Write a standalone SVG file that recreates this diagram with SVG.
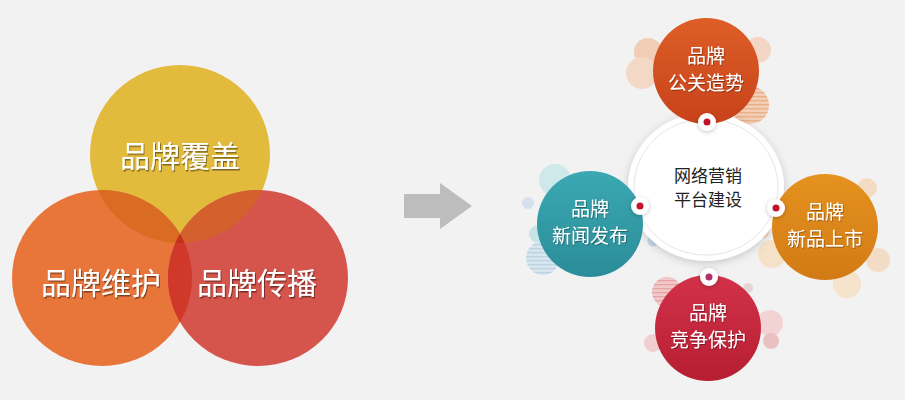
<svg xmlns="http://www.w3.org/2000/svg" width="905" height="400" viewBox="0 0 905 400">
<defs>
<style>
.venn{font-family:"Noto Sans CJK SC","Noto Sans",sans-serif;font-size:30px;fill:#fff;text-anchor:middle}
.lbl{font-family:"Noto Sans CJK SC","Noto Sans",sans-serif;font-size:19px;fill:#fff;text-anchor:middle}
.ctr{font-family:"Noto Sans CJK SC","Noto Sans",sans-serif;font-size:17px;fill:#222;text-anchor:middle}
.dotw{fill:#fff;filter:url(#sh)}
.dotr{fill:#C41230}
</style>
<filter id="ts" x="-10%" y="-30%" width="120%" height="160%"><feDropShadow dx="1" dy="1.5" stdDeviation="0.7" flood-color="#000" flood-opacity="0.45"/></filter>
<filter id="ts2" x="-10%" y="-30%" width="120%" height="160%"><feDropShadow dx="0.8" dy="1" stdDeviation="0.6" flood-color="#000" flood-opacity="0.35"/></filter>
<filter id="sh" x="-30%" y="-30%" width="160%" height="160%"><feDropShadow dx="0" dy="1" stdDeviation="2" flood-color="#000" flood-opacity="0.25"/></filter>
<filter id="shc" x="-20%" y="-20%" width="140%" height="140%"><feDropShadow dx="0" dy="2" stdDeviation="4" flood-color="#000" flood-opacity="0.18"/></filter>
<clipPath id="cY"><ellipse cx="180" cy="154" rx="90" ry="89"/></clipPath>
<clipPath id="cO"><ellipse cx="102" cy="278" rx="90" ry="88"/></clipPath>
<linearGradient id="gTop" x1="0" y1="0" x2="0" y2="1"><stop offset="0" stop-color="#DE5E27"/><stop offset="1" stop-color="#C8421A"/></linearGradient>
<linearGradient id="gTeal" x1="0" y1="0" x2="0" y2="1"><stop offset="0" stop-color="#3BA8B2"/><stop offset="1" stop-color="#2A8D99"/></linearGradient>
<linearGradient id="gOr" x1="0" y1="0" x2="0" y2="1"><stop offset="0" stop-color="#E5921F"/><stop offset="1" stop-color="#D27A15"/></linearGradient>
<linearGradient id="gRed" x1="0" y1="0" x2="0" y2="1"><stop offset="0" stop-color="#D2324A"/><stop offset="1" stop-color="#B71E31"/></linearGradient>
<pattern id="stP" width="6" height="4" patternUnits="userSpaceOnUse"><rect width="6" height="4" fill="#F3CDB4"/><rect width="6" height="1.3" fill="#E9AE8A"/></pattern>
<pattern id="stB" width="6" height="4" patternUnits="userSpaceOnUse"><rect width="6" height="4" fill="#D7E6EE"/><rect width="6" height="1.3" fill="#BCD4E2"/></pattern>
<pattern id="stR" width="6" height="4" patternUnits="userSpaceOnUse"><rect width="6" height="4" fill="#F2C8C8"/><rect width="6" height="1.3" fill="#E5A3A6"/></pattern>
</defs>
<rect width="905" height="400" fill="#F2F2F2"/>

<g id="venn">
<g id="v-cover">
<ellipse cx="180" cy="154" rx="90" ry="89" fill="#E2BA3C"/>
</g>
<g id="v-maintain">
<ellipse cx="102" cy="278" rx="90" ry="88" fill="#E8763A"/>
</g>
<g id="v-spread">
<ellipse cx="258" cy="278" rx="90" ry="88" fill="#D5544B"/>
</g>
<g id="v-overlaps">
<ellipse cx="102" cy="278" rx="90" ry="88" fill="#D96B22" clip-path="url(#cY)"/>
<ellipse cx="258" cy="278" rx="90" ry="88" fill="#D4602E" clip-path="url(#cY)"/>
<ellipse cx="258" cy="278" rx="90" ry="88" fill="#D0382A" clip-path="url(#cO)"/>
<g clip-path="url(#cY)"><ellipse cx="258" cy="278" rx="90" ry="88" fill="#C82F1F" clip-path="url(#cO)"/></g>
</g>
<text class="venn" x="180" y="167" filter="url(#ts)">品牌覆盖</text>
<text class="venn" x="101" y="294" filter="url(#ts)">品牌维护</text>
<text class="venn" x="257" y="294" filter="url(#ts)">品牌传播</text>
</g>

<g id="connectors">
<polygon points="404,194 440,194 440,183 472,206 440,229 440,218 404,218" fill="#BDBDBD"/>
</g>

<g id="decor">
<circle cx="648" cy="52" r="14" fill="#F1CDB5"/>
<circle cx="642" cy="73" r="16" fill="#F4D8C6"/>
<circle cx="758" cy="50" r="13" fill="#F3D6C4"/>
<circle cx="750" cy="105" r="19" fill="url(#stP)"/>
<circle cx="555" cy="180" r="16" fill="#CFE8EA"/>
<circle cx="528" cy="203" r="6" fill="#D5E1EC"/>
<circle cx="538" cy="234" r="9" fill="#C9E4E7"/>
<circle cx="543" cy="258" r="17" fill="url(#stB)"/>
<circle cx="653" cy="241" r="5.5" fill="#C8D7E8"/>
<circle cx="867" cy="188" r="10" fill="#F4DCC4"/>
<circle cx="763" cy="232" r="6" fill="#F1D2BC"/>
<circle cx="772" cy="254" r="14" fill="#F5E1C8"/>
<circle cx="847" cy="284" r="14" fill="#F5E3CC"/>
<circle cx="878" cy="260" r="12" fill="#F3DCC6"/>
<circle cx="667" cy="292" r="15" fill="url(#stR)"/>
<circle cx="748" cy="288" r="5" fill="#E2D6D6"/>
<circle cx="653" cy="343" r="9" fill="#F0CFCF"/>
<circle cx="770" cy="323" r="13" fill="#F2D2D2"/>
<circle cx="771" cy="341" r="8" fill="#EBC0C2"/>
</g>

<g id="center">
<ellipse cx="706" cy="187" rx="78" ry="74" fill="#fff" filter="url(#shc)"/>
<ellipse cx="706" cy="187" rx="72" ry="68" fill="none" stroke="#E6E6E6" stroke-width="1"/>
<text class="ctr" x="708" y="182">网络营销</text>
<text class="ctr" x="708" y="206">平台建设</text>
</g>

<g id="n-pr">
<circle cx="706" cy="71" r="53" fill="url(#gTop)"/>
<text class="lbl" x="706" y="63" filter="url(#ts2)">品牌</text>
<text class="lbl" x="706" y="90" filter="url(#ts2)">公关造势</text>
</g>
<g id="n-news">
<circle cx="590" cy="224" r="53" fill="url(#gTeal)"/>
<text class="lbl" x="590" y="216" filter="url(#ts2)">品牌</text>
<text class="lbl" x="590" y="243" filter="url(#ts2)">新闻发布</text>
</g>
<g id="n-launch">
<circle cx="825" cy="227" r="53" fill="url(#gOr)"/>
<text class="lbl" x="825" y="219" filter="url(#ts2)">品牌</text>
<text class="lbl" x="825" y="246" filter="url(#ts2)">新品上市</text>
</g>
<g id="n-protect">
<circle cx="708" cy="328" r="53" fill="url(#gRed)"/>
<text class="lbl" x="708" y="320" filter="url(#ts2)">品牌</text>
<text class="lbl" x="708" y="347" filter="url(#ts2)">竞争保护</text>
</g>

<g id="dots">
<circle class="dotw" cx="707" cy="122" r="9"/><circle class="dotr" cx="707" cy="122" r="3.5"/>
<circle class="dotw" cx="640" cy="206" r="9"/><circle class="dotr" cx="640" cy="206" r="3.5"/>
<circle class="dotw" cx="776" cy="208" r="9"/><circle class="dotr" cx="776" cy="208" r="3.5"/>
<circle class="dotw" cx="709" cy="277" r="9"/><circle cx="709" cy="277" r="3.5" fill="#B2306A"/>
</g>
</svg>
